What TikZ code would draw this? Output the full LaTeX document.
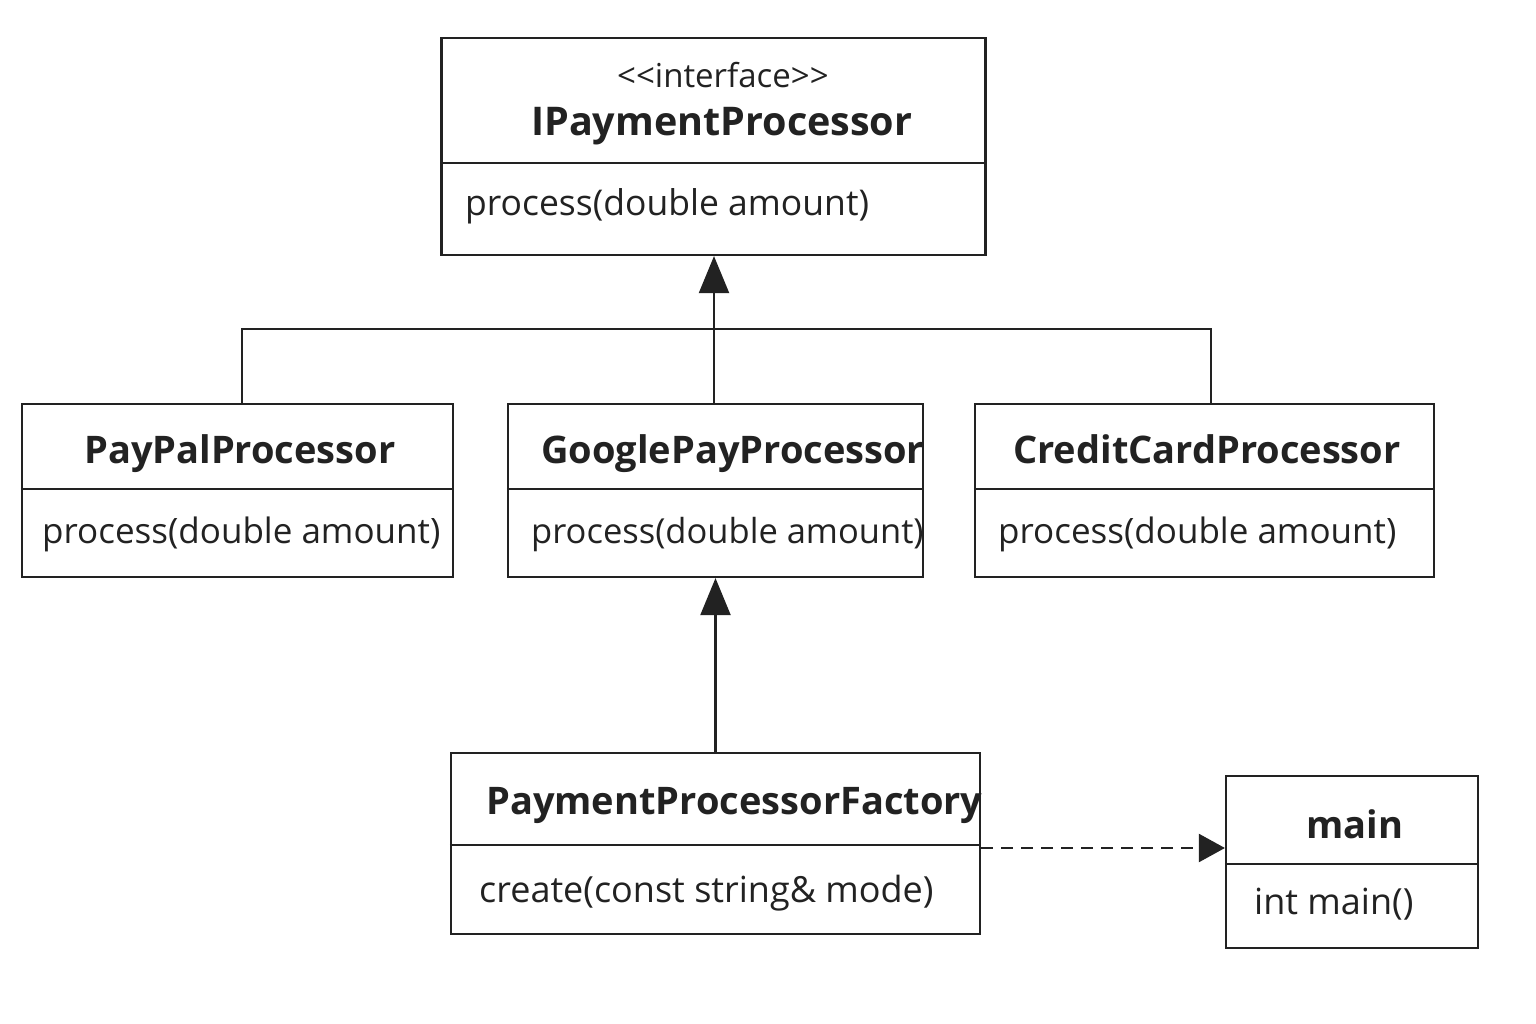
\documentclass[tikz,border=0pt]{standalone}
\usepackage{fontspec}
\setmainfont{Open Sans}
\usetikzlibrary{arrows.meta}
\definecolor{ink}{HTML}{222222}
\begin{document}
\begin{tikzpicture}[x=1pt,y=-1pt,
  box/.style={draw=ink,line width=2.2pt,rectangle,inner sep=0pt},
  ttl/.style={anchor=base west,inner sep=0pt,text=ink,font=\fontsize{38}{42}\selectfont\bfseries},
  mth/.style={anchor=base west,inner sep=0pt,text=ink,font=\fontsize{35}{40}\selectfont},
  ster/.style={anchor=base west,inner sep=0pt,text=ink,font=\fontsize{33}{38}\selectfont},
  conn/.style={draw=ink,line width=2.2pt},
  inh/.style={conn,-{Triangle[length=37pt,width=30pt]}},
  dep/.style={conn,dash pattern=on 12pt off 8pt,-{Triangle[length=26pt,width=28pt]}}
]
\useasboundingbox[fill=white] (0,0) rectangle (1536,1024);
% boxes
\node[box,minimum width=544pt,minimum height=217pt] (ip) at (713.5,146.5) {};
\node[box,minimum width=431pt,minimum height=173pt] (pp) at (237.5,490.5) {};
\node[box,minimum width=415pt,minimum height=173pt] (gp) at (715.5,490.5) {};
\node[box,minimum width=459pt,minimum height=173pt] (cc) at (1204.5,490.5) {};
\node[box,minimum width=529pt,minimum height=181pt] (fac) at (715.5,843.5) {};
\node[box,minimum width=252pt,minimum height=172pt] (mn) at (1352,862) {};
% dividers
\draw[conn] (ip.west |- 0,163) -- (ip.east |- 0,163);
\draw[conn] (pp.west |- 0,489) -- (pp.east |- 0,489);
\draw[conn] (gp.west |- 0,489) -- (gp.east |- 0,489);
\draw[conn] (cc.west |- 0,489) -- (cc.east |- 0,489);
\draw[conn] (fac.west |- 0,845) -- (fac.east |- 0,845);
\draw[conn] (mn.west |- 0,864) -- (mn.east |- 0,864);
% texts
\node[ster] (ipst) at (617,88) {<{}<interface>{}>};
\node[ttl,font=\fontsize{39.5}{42}\selectfont\bfseries] (ipt) at (531,136) {IPaymentProcessor};
\node[mth,font=\fontsize{35.5}{40}\selectfont] (ipm) at (465,216) {process(double amount)};
\node[ttl] (ppt) at (84,463) {PayPalProcessor};
\node[mth] (ppm) at (42,543) {process(double amount)};
\node[ttl] (gpt) at (541,463) {GooglePayProcessor};
\node[mth,font=\fontsize{34.5}{40}\selectfont] (gpm) at (531,543) {process(double amount)};
\node[ttl] (cct) at (1013,463) {CreditCardProcessor};
\node[mth] (ccm) at (998,543) {process(double amount)};
\node[ttl] (fact) at (486,814) {PaymentProcessorFactory};
\node[mth,font=\fontsize{36}{40}\selectfont] (facm) at (479,902) {create(const string\& mode)};
\node[ttl] (mnt) at (1306,838) {main};
\node[mth,font=\fontsize{36}{40}\selectfont] (mnm) at (1254,914) {int main()};
% connectors
\coordinate (jl) at (242,329);
\coordinate (jr) at (1211,329);
\coordinate (jm) at (714,329);
\draw[inh] (gp.north -| jm) -- (ip.south -| jm);
\draw[conn] (pp.north -| jl) -- (jl) -- (jr) -- (cc.north -| jr);
\draw[inh] (fac.north) -- (gp.south);
\coordinate (dd) at (1226,848);
\draw[dep] (fac.east |- dd) -- (mn.west |- dd);
\end{tikzpicture}
\end{document}
